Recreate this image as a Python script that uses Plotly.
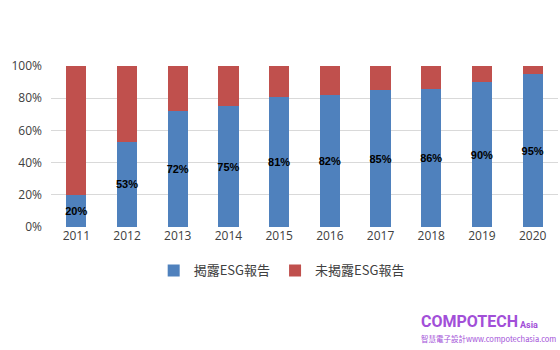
import plotly.graph_objects as go

years = ["2011", "2012", "2013", "2014", "2015", "2016", "2017", "2018", "2019", "2020"]
disclosed = [20, 53, 72, 75, 81, 82, 85, 86, 90, 95]
not_disclosed = [100 - v for v in disclosed]
labels = [f"{v}%" for v in disclosed]

fig = go.Figure()
fig.add_trace(go.Bar(
    x=years, y=disclosed, name="揭露ESG報告",
    marker=dict(color="#4F81BD", line=dict(width=0)),
    text=labels, textposition="inside", insidetextanchor="middle",
    textfont=dict(family="Liberation Sans, Arial", size=11, color="#000000", weight="bold"),
    textangle=0,
))
fig.add_trace(go.Bar(
    x=years, y=not_disclosed, name="未揭露ESG報告",
    marker=dict(color="#C0504D", line=dict(width=0)),
    hoverinfo="skip",
))

fig.update_layout(
    barmode="stack",
    bargap=0.6,
    width=560, height=350,
    margin=dict(l=51, r=2, t=66, b=123),
    paper_bgcolor="white", plot_bgcolor="white",
    font=dict(family="Open Sans, Noto Sans CJK TC", size=12, color="#404040"),
    uniformtext=dict(mode="show", minsize=11),
    showlegend=True,
    legend=dict(
        orientation="h", x=0.455, xanchor="center", y=-0.27, yanchor="middle",
        font=dict(family="Noto Sans CJK TC", size=13, color="#404040"),
        itemwidth=30, traceorder="normal", itemsizing="constant",
    ),
    xaxis=dict(showgrid=False, showline=False, ticks="", tickfont=dict(size=12, color="#404040")),
    yaxis=dict(
        range=[0, 100], tickvals=[0, 20, 40, 60, 80, 100],
        ticktext=["0%", "20%", "40%", "60%", "80%", "100%"],
        showgrid=True, gridcolor="#d9d9d9", gridwidth=1,
        zeroline=False, showline=False, ticks="", ticklabelstandoff=8,
        tickfont=dict(size=12, color="#404040"),
    ),
    annotations=[
        dict(text="<b>COMPOTECH</b>", xref="paper", yref="paper", x=(419 - 51) / 507, y=(227 - 321) / 161,
             xanchor="left", yanchor="middle", showarrow=False,
             font=dict(family="Roboto", size=16, color="#A24FD8")),
        dict(text="<b>Asia</b>", xref="paper", yref="paper", x=(518 - 51) / 507, y=(227 - 325) / 161,
             xanchor="left", yanchor="middle", showarrow=False,
             font=dict(family="Roboto", size=9, color="#A24FD8")),
        dict(text="智慧電子設計www.compotechasia.com", xref="paper", yref="paper", x=(419 - 51) / 507, y=(227 - 338) / 161,
             xanchor="left", yanchor="middle", showarrow=False,
             font=dict(family="Noto Sans CJK TC", size=7.5, color="#A24FD8")),
    ],
)

fig.write_html("out.html")
